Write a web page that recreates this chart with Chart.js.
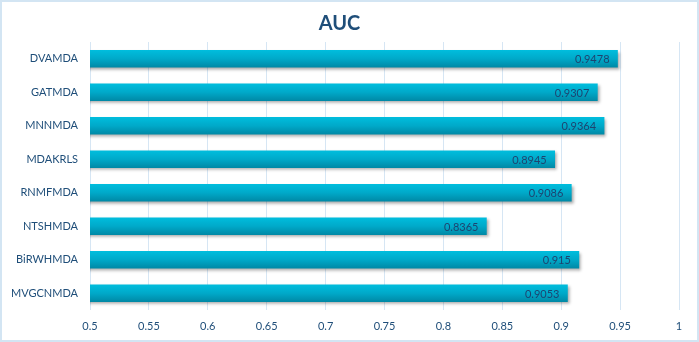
<!DOCTYPE html>
<html>
<head>
<meta charset="utf-8">
<script src="https://cdn.jsdelivr.net/npm/chart.js@4"></script>
<style>
  body { margin: 0; background: #fff; }
  #wrap { width: 699px; height: 342px; }
</style>
</head>
<body>
<div id="wrap"><canvas id="chart"></canvas></div>
<script>
// Methods and their AUC values (top to bottom as in the picture)
const methods = ['DVAMDA', 'GATMDA', 'MNNMDA', 'MDAKRLS', 'RNMFMDA', 'NTSHMDA', 'BiRWHMDA', 'MVGCNMDA'];
const aucValues = [0.9478, 0.9307, 0.9364, 0.8945, 0.9086, 0.8365, 0.915, 0.9053];
const axisMin = 0.5;
const axisMax = 1;
const axisStep = 0.05;

const textBlue = '#1f4e79';
const barHalf = 8.5;

// Vertical gradient for each bar
function barGradient(context) {
  const chart = context.chart;
  const yScale = chart.scales.y;
  if (!chart.chartArea || !yScale) return '#00a8c8';
  const y = yScale.getPixelForValue(context.dataIndex);
  const g = chart.ctx.createLinearGradient(0, y - barHalf, 0, y + barHalf);
  g.addColorStop(0, '#00bddd');
  g.addColorStop(0.5, '#00a9c9');
  g.addColorStop(1, '#0089a6');
  return g;
}

// Frame, bar shadow and value labels
const extras = {
  id: 'extras',
  beforeDraw(chart) {
    const ctx = chart.ctx;
    ctx.save();
    ctx.strokeStyle = '#d3e5f3';
    ctx.lineWidth = 2;
    ctx.strokeRect(1, 1, chart.width - 2, chart.height - 2);
    ctx.restore();
  },
  beforeDatasetsDraw(chart) {
    const ctx = chart.ctx;
    ctx.save();
    ctx.shadowColor = 'rgba(0,0,0,0.35)';
    ctx.shadowOffsetX = 2;
    ctx.shadowOffsetY = 2;
    ctx.shadowBlur = 3;
  },
  afterDatasetsDraw(chart) {
    const ctx = chart.ctx;
    ctx.restore();
    ctx.save();
    ctx.font = '11px Lato';
    ctx.fillStyle = '#1c4470';
    ctx.textAlign = 'right';
    ctx.textBaseline = 'middle';
    chart.getDatasetMeta(0).data.forEach((bar, i) => {
      ctx.fillText(String(aucValues[i]), bar.x - 8, bar.y + 1);
    });
    ctx.restore();
  }
};

const ctx = document.getElementById('chart').getContext('2d');
const chart = new Chart(ctx, {
  type: 'bar',
  data: {
    labels: methods,
    datasets: [{
      label: 'AUC',
      data: aucValues,
      backgroundColor: barGradient,
      borderWidth: 0,
      barThickness: 17
    }]
  },
  options: {
    indexAxis: 'y',
    responsive: true,
    maintainAspectRatio: false,
    animation: false,
    layout: { padding: { left: 0, right: 20, top: 0, bottom: 0 } },
    plugins: {
      legend: { display: false },
      tooltip: { enabled: false },
      title: {
        display: true,
        text: 'AUC',
        color: textBlue,
        font: { family: 'Lato', size: 20, weight: 'bold' },
        padding: { top: 12, bottom: 6 }
      }
    },
    scales: {
      x: {
        min: axisMin,
        max: axisMax,
        border: { display: false },
        grid: { color: '#d6e6f4', drawTicks: false },
        ticks: {
          stepSize: axisStep,
          color: textBlue,
          font: { family: 'Lato', size: 11 },
          padding: 10,
          callback: v => String(Math.round(v * 100) / 100)
        },
        afterFit(scale) { scale.height = 32; }
      },
      y: {
        border: { display: false },
        grid: { display: false, drawTicks: false },
        ticks: {
          color: textBlue,
          font: { family: 'Lato', size: 11 },
          padding: 12
        },
        afterFit(scale) { scale.width = 90; }
      }
    }
  },
  plugins: [extras]
});
</script>
</body>
</html>
